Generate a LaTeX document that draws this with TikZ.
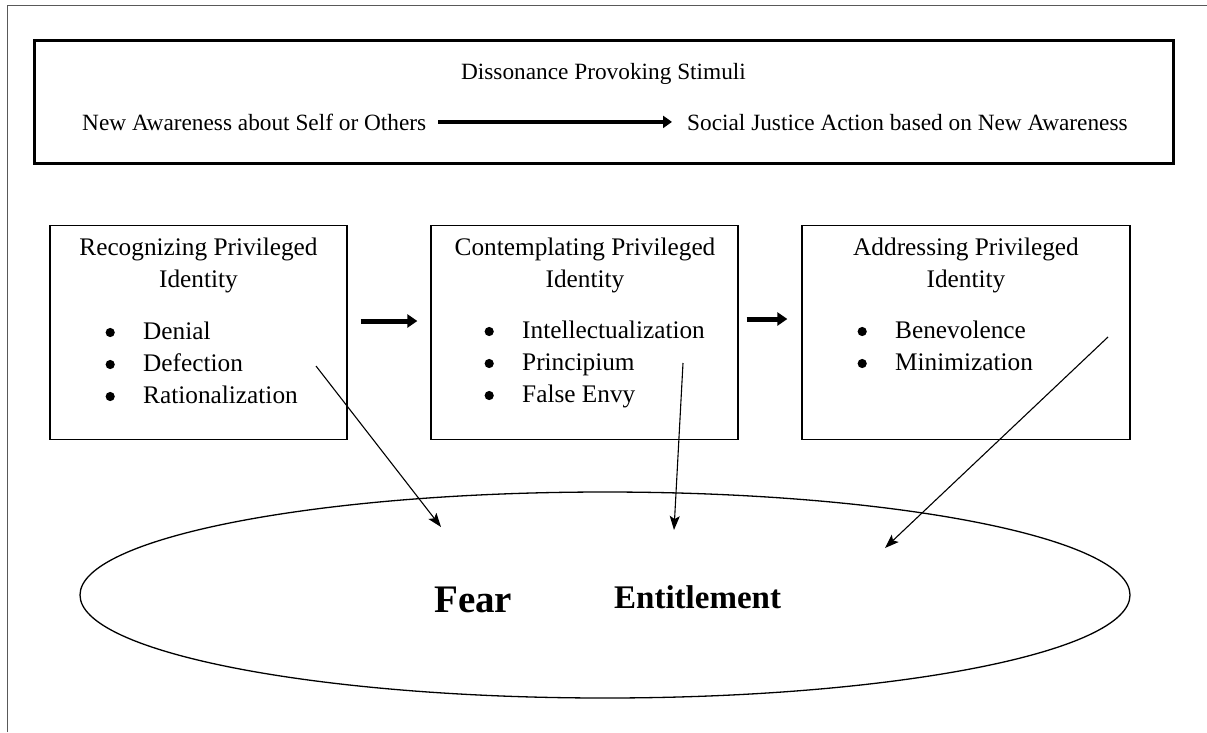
\documentclass[tikz,border=0pt]{standalone}
\usepackage{fontspec}
\setmainfont{Liberation Serif}
\usetikzlibrary{shapes,arrows.meta,positioning}

\newcommand{\blt}[1]{\makebox[0pt]{\tikz[baseline=0pt]\fill (0pt,6.5pt) circle (4.6pt);}\hspace{33pt}#1}
\newcommand{\twoline}[2]{\begin{tabular}[t]{@{}c@{}}#1\\#2\end{tabular}}

\begin{document}
\begin{tikzpicture}[
        x=1pt, y=-1pt,
        every node/.style={font=\fontsize{23.3}{32}\selectfont, inner sep=0pt},
        inbox/.style={font=\fontsize{25.3}{32}\selectfont},
        box/.style={rectangle, draw, line width=1.3pt, minimum height=214pt},
        stimbox/.style={rectangle, draw, line width=3pt, minimum width=1139pt, minimum height=123pt},
        head/.style={anchor=base},
        list/.style={anchor=base west},
        fat/.style={-{Triangle[length=10pt,width=13pt]}, line width=5pt},
        slim/.style={-{Stealth[length=14pt,width=10pt,inset=3pt]}, line width=1.1pt},
        big/.style={font=\bfseries\fontsize{39}{39}\selectfont, anchor=base west}
    ]
        \useasboundingbox (0,0) rectangle (1207,732);
        \draw[gray!70!black, line width=1pt] (7,732) -- (7,5) -- (1207,5);

        \node[stimbox] (stimuli) at (603.5,101.5) {};
        \node[head] (stimtitle) at (603.5,79) {Dissonance Provoking Stimuli};
        \node[list] (aware) at (82,130) {New Awareness about Self or Others};
        \node[list] (action) at (687,130) {Social Justice Action based on New Awareness};
        \draw[-{Triangle[length=9pt,width=12pt]}, line width=4pt, shorten <=12pt, shorten >=15pt]
            (aware.east) -- (aware.east -| action.west);

        \node[box, minimum width=297pt] (recog) at (198.5,332.5) {};
        \node[box, minimum width=307pt] (contemp) at (584.5,332.5) {};
        \node[box, minimum width=328pt] (address) at (966,332.5) {};

        \node[head, inbox] (recogtitle) at (198.5,255) {\twoline{Recognizing Privileged}{Identity}};
        \node[head, inbox] (contemptitle) at (585,255) {\twoline{Contemplating Privileged}{Identity}};
        \node[head, inbox] (addresstitle) at (966,255) {\twoline{Addressing Privileged}{Identity}};

        \node[list, inbox] (recoglist) at (110,339) {\begin{tabular}[t]{@{}l@{}}\blt{Denial}\\\blt{Defection}\\\blt{Rationalization}\end{tabular}};
        \node[list, inbox] (contemplist) at (489,338) {\begin{tabular}[t]{@{}l@{}}\blt{Intellectualization}\\\blt{Principium}\\\blt{False Envy}\end{tabular}};
        \node[list, inbox] (addresslist) at (862,338) {\begin{tabular}[t]{@{}l@{}}\blt{Benevolence}\\\blt{Minimization}\end{tabular}};

        \draw[fat, shorten <=13pt, shorten >=13pt] ([yshift=11.5pt]recog.east) -- ([yshift=11.5pt]contemp.west);
        \draw[fat, shorten <=8pt, shorten >=14pt] ([yshift=13.5pt]contemp.east) -- ([yshift=13.5pt]address.west);

        \node[draw, ellipse, line width=1.3pt, minimum width=1050pt, minimum height=206pt] (core) at (605,595) {};
        \node[big] (fear) at (434,612) {Fear};
        \node[big, font=\bfseries\fontsize{33}{33}\selectfont] (entitle) at (614,608) {Entitlement};

        \coordinate (recogout) at (316,366);
        \coordinate (feartip) at (441,527);
        \coordinate (contempout) at (683,363);
        \coordinate (entitletip) at (674,530);
        \coordinate (addressout) at (1108,337);
        \coordinate (coretip) at (885,548);

        \draw[slim] (recogout) -- (feartip);
        \draw[slim] (contempout) -- (entitletip);
        \draw[slim] (addressout) -- (coretip);
    \end{tikzpicture}
\end{document}
